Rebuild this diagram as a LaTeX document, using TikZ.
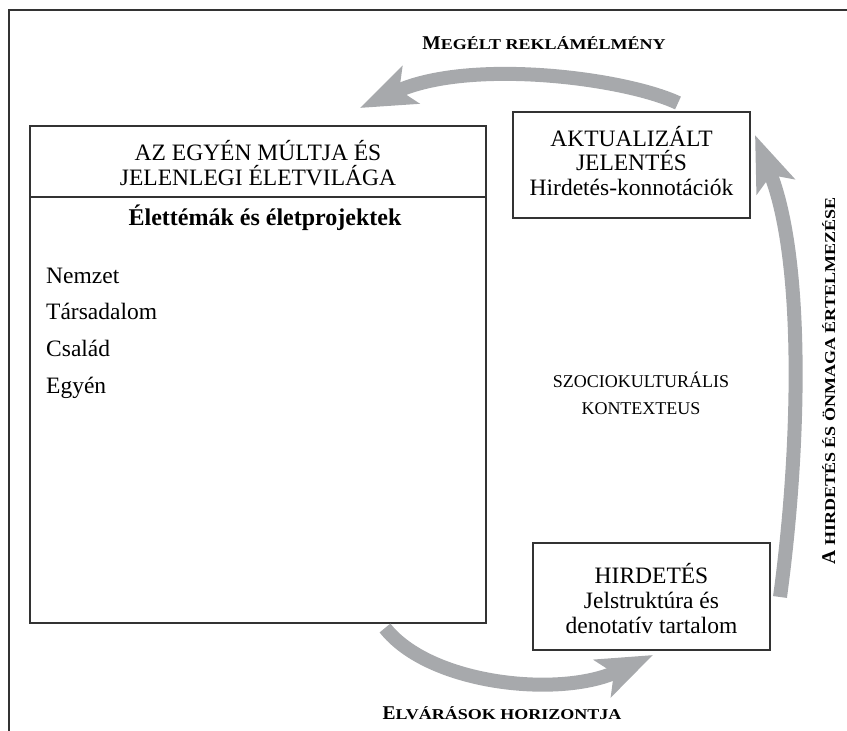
\documentclass[tikz,border=0pt]{standalone}
\usepackage{fontspec}
\setmainfont{Liberation Serif}
\newfontfamily\scwide[FakeStretch=1.2]{Liberation Serif}
\usetikzlibrary{arrows.meta}
\definecolor{arrowgray}{HTML}{A7A9AC}
\definecolor{linegray}{HTML}{333333}
\newcommand{\fsc}[2]{{\bfseries\fontsize{19.5}{19.5}\selectfont #1\scwide\bfseries\fontsize{15}{15}\selectfont #2}}
\begin{document}
\begin{tikzpicture}[x=1pt,y=-1pt,
  box/.style={draw=linegray, line width=1.2pt, inner sep=0pt},
  txt/.style={font=\fontsize{23.5}{24}\selectfont, inner sep=0pt},
  small/.style={font=\fontsize{18}{18}\selectfont, inner sep=0pt, anchor=base},
  label/.style={inner sep=0pt, anchor=base},
  bigarrow/.style={draw=arrowgray, line width=14pt, -{Stealth[length=55pt,width=40pt,inset=12pt]}}]
\useasboundingbox (0,0) rectangle (847,731);
% outer frame
\draw[linegray, line width=2pt] (847,10) -- (9,10) -- (9,731);

% big box
\node[box, minimum width=456, minimum height=497] (life) at (258,374.5) {};
\coordinate (sep) at (0,197);
\draw[linegray, line width=1.2pt] (life.west |- sep) -- (life.east |- sep);
\node[txt, anchor=base] (h1) at (258,160.5) {AZ EGYÉN MÚLTJA ÉS};
\node[txt, anchor=base] (h2) at (258,185) {JELENLEGI ÉLETVILÁGA};
\node[txt, anchor=base, font=\bfseries\fontsize{24}{24}\selectfont] (title) at (265,225) {Élettémák és életprojektek};
\node[txt, anchor=base west] (l1) at (46,283) {Nemzet};
\node[txt, anchor=base west] (l2) at (46,319.7) {Társadalom};
\node[txt, anchor=base west] (l3) at (46,356.3) {Család};
\node[txt, anchor=base west] (l4) at (46,393) {Egyén};

% actualized meaning box
\node[box, minimum width=237, minimum height=106] (akt) at (631.5,165) {};
\node[txt, anchor=base] (a1) at (631.5,146.5) {AKTUALIZÁLT};
\node[txt, anchor=base] (a2) at (631.5,170) {JELENTÉS};
\node[txt, anchor=base] (a3) at (631.5,195) {Hirdetés-konnotációk};

% advertisement box
\node[box, minimum width=237, minimum height=107] (hird) at (651.5,596.5) {};
\node[txt, anchor=base] (b1) at (651.5,583) {HIRDETÉS};
\node[txt, anchor=base] (b2) at (651.5,608) {Jelstruktúra és};
\node[txt, anchor=base] (b3) at (651.5,633) {denotatív tartalom};

% context
\node[small] (c1) at (641,387) {SZOCIOKULTURÁLIS};
\node[small] (c2) at (641,414) {KONTEXTEUS};

% arrows
\coordinate (t1) at (678,103); \coordinate (e1) at (360,108);
\draw[bigarrow] (t1) .. controls (625,78) and (470,58) .. (e1);
\coordinate (t2) at (780,597); \coordinate (e2) at (755,135);
\draw[bigarrow] (t2) .. controls (800,450) and (805,260) .. (e2);
\coordinate (t3) at (385,628); \coordinate (e3) at (653,655);
\draw[bigarrow] (t3) .. controls (430,685) and (560,698) .. (e3);

% labels
\node[label] (lab1) at (544,49) {\fsc{M}{EGÉLT REKLÁMÉLMÉNY}};
\node[label] (lab2) at (502,719) {\fsc{E}{LVÁRÁSOK HORIZONTJA}};
\node[label, rotate=90] (lab3) at (835,381) {\fsc{A}{\ HIRDETÉS ÉS ÖNMAGA ÉRTELMEZÉSE}};
\end{tikzpicture}
\end{document}
